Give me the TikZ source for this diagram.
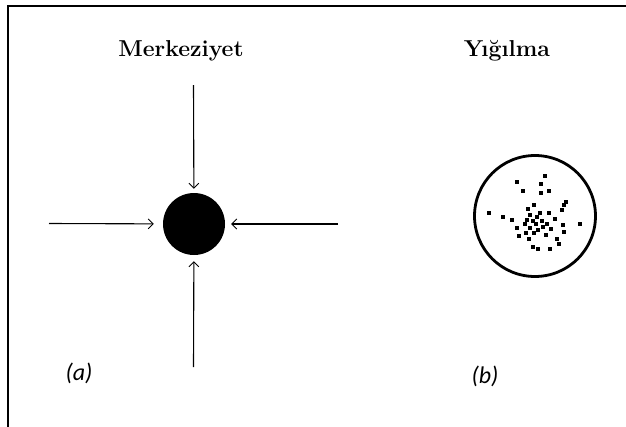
\documentclass[tikz,border=0pt]{standalone}
\usepackage{fontspec}
\newfontfamily\labelfont{Carlito}
\usetikzlibrary{arrows.meta}
\tikzset{
  frameline/.style={line width=2pt, line cap=rect},
  inarrow/.style={line width=1.1pt, -{Straight Barb[length=5pt,width=10pt,line width=0.9pt]}},
  titletext/.style={font=\fontsize{23}{26}\selectfont\bfseries, anchor=base},
  captext/.style={font=\labelfont\itshape\fontsize{24}{28}\selectfont},
  grain/.style={fill=black},
}
\begin{document}
\begin{tikzpicture}[x=1pt,y=-1pt]
  \useasboundingbox (0,0) rectangle (626,426);
  % frame (top and left edges)
  \draw[frameline] (7.5,430) -- (7.5,6) -- (630,6);

  % titles
  \node[titletext] (t1) at (181,56) {Merkeziyet};
  \node[titletext] (t2) at (507,56) {Yığılma};

  % (a) centrality: a black disk with four incoming arrows
  \node[circle, fill=black, minimum size=62pt, inner sep=0pt] (core) at (194,224) {};
  \coordinate (north) at (193.5,85);
  \coordinate (west)  at (49,223.5);
  \coordinate (east)  at (338,224);
  \coordinate (south) at (193.5,367);
  \draw[inarrow, shorten >=4pt] (north) -- (core);
  \draw[inarrow, shorten >=9pt] (west) -- (core);
  \draw[inarrow, shorten >=6pt] (east) -- (core);
  \draw[inarrow, shorten >=6pt] (south) -- (core);

  % (b) agglomeration: scattered grains inside a ring
  \node[circle, draw=black, line width=2.8pt, minimum size=121pt, inner sep=0pt] (ring) at (535,216) {};
  \foreach \px/\py in {
    545/176, 517.3/182.3, 541/184.3, 523.3/190.7, 541/192.7, 549.3/190.7,
    566/202.3, 564/205, 562/210, 534/205, 528.3/209.3, 489.3/212.7,
    502.7/216.7, 511.7/220, 530/215, 540/212.7, 549.3/213.3, 537.3/217.3,
    526.7/220, 532.7/220.7, 541.7/220.7, 555/219.3, 547.3/224, 580/224,
    525/224, 536/224, 517.3/228.3, 530/228.3, 538.3/230, 543.3/227.3,
    550.7/229.3, 563.3/225, 564/231.7, 526/232.7, 534/232.7, 519.3/236,
    546/235, 529.3/239.3, 556.7/239.3, 559.3/244.3, 533.3/247.3,
    538.3/248.7, 550/249.3}
    \fill[grain] (\px-2.1,\py-2.1) rectangle (\px+2.1,\py+2.1);

  % panel captions
  \node[captext] (ca) at (79,373) {(a)};
  \node[captext] (cb) at (485,376) {(b)};
\end{tikzpicture}
\end{document}
